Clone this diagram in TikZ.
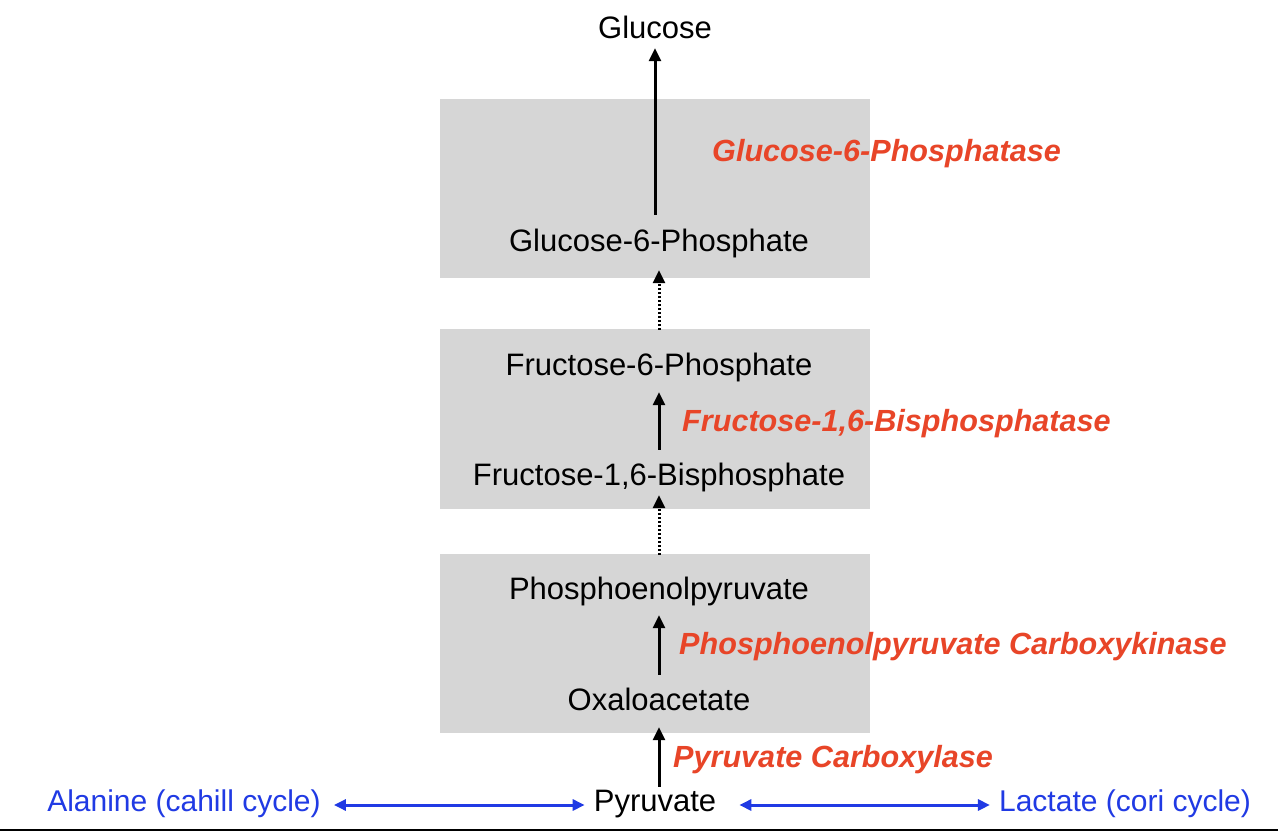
\documentclass[tikz,border=0pt]{standalone}
\usepackage{fontspec}
\setmainfont{Liberation Sans}
\usetikzlibrary{arrows.meta}
\definecolor{boxgray}{RGB}{214,214,214}
\definecolor{enzred}{RGB}{232,69,40}
\definecolor{cycblue}{RGB}{32,58,228}
\begin{document}
\begin{tikzpicture}[x=1pt,y=-1pt,
  met/.style={inner sep=0pt,text height=22pt,text depth=0pt,font=\fontsize{31}{35}\selectfont,anchor=base},
  enz/.style={inner sep=0pt,anchor=base west,text=enzred,font=\fontsize{30.6}{34}\selectfont\bfseries\itshape},
  cyc/.style={inner sep=0pt,text height=22pt,text depth=0pt,anchor=base,text=cycblue,font=\fontsize{30}{34}\selectfont},
  grp/.style={fill=boxgray,draw=none},
  solidarr/.style={line width=3pt,-{Triangle[length=13pt,width=12pt]}},
  dotarr/.style={line width=3pt,dash pattern=on 2pt off 2pt,-{Triangle[length=13pt,width=12pt]}},
  bluearr/.style={line width=3pt,draw=cycblue,{Triangle[length=12pt,width=11pt]}-{Triangle[length=12pt,width=11pt]}}]
\useasboundingbox (0,0) rectangle (1278,836);
\fill[white] (0,0) rectangle (1278,836);
% group boxes
\path[grp] (440,99) rectangle (870,278);
\path[grp] (440,329) rectangle (870,509);
\path[grp] (440,554) rectangle (870,733);
% metabolites
\node[met] (glc) at (655,38) {Glucose};
\node[met] (g6p) at (659,251) {Glucose-6-Phosphate};
\node[met] (f6p) at (659,375) {Fructose-6-Phosphate};
\node[met] (f16) at (659,485) {Fructose-1,6-Bisphosphate};
\node[met] (pep) at (659,599) {Phosphoenolpyruvate};
\node[met] (oxa) at (659,710) {Oxaloacetate};
\node[met] (pyr) at (655,811) {Pyruvate};
\node[cyc] (ala) at (184,811) {Alanine (cahill cycle)};
\node[cyc] (lac) at (1125,811) {Lactate (cori cycle)};
% enzymes
\node[enz] (e1) at (712,161) {Glucose-6-Phosphatase};
\node[enz] (e2) at (682,431) {Fructose-1,6-Bisphosphatase};
\node[enz] (e3) at (679,654) {Phosphoenolpyruvate Carboxykinase};
\node[enz] (e4) at (673,767) {Pyruvate Carboxylase};
% arrows
\draw[solidarr,shorten <=14pt,shorten >=10pt] (g6p.north -| glc) -- (glc.south);
\draw[dotarr,shorten <=23pt,shorten >=19pt] (f6p.north -| g6p) -- (g6p.south);
\draw[solidarr,shorten <=13pt,shorten >=17pt] (f16.north) -- (f6p.south);
\draw[dotarr,shorten <=22pt,shorten >=10pt] (pep.north) -- (f16.south);
\draw[solidarr,shorten <=13pt,shorten >=16pt] (oxa.north) -- (pep.south);
\draw[solidarr,shorten <=2pt,shorten >=17pt] (pyr.north -| oxa) -- (oxa.south);
\draw[bluearr,shorten <=13pt,shorten >=9pt] ([yshift=-5pt]ala.east) -- ([yshift=-5pt]pyr.west);
\draw[bluearr,shorten <=23pt,shorten >=9pt] ([yshift=-5pt]pyr.east) -- ([yshift=-5pt]lac.west);
% bottom rule
\coordinate (bl) at (0,830);
\coordinate (br) at (1278,830);
\draw[line width=2pt] (bl) -- (br);
\end{tikzpicture}
\end{document}
